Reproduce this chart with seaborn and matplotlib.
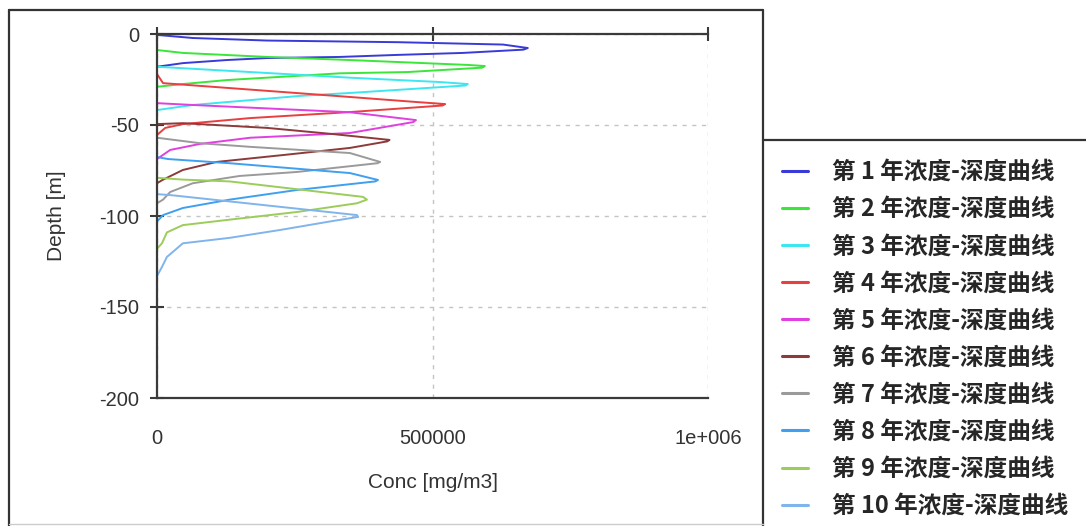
import matplotlib
matplotlib.use('Agg')
import matplotlib.pyplot as plt
import pandas as pd
import seaborn as sns
from matplotlib.lines import Line2D
from matplotlib.font_manager import FontProperties

# ---------------- data ----------------
labels = [f"第 {i} 年浓度-深度曲线" for i in range(1, 11)]

conc_y1 = [0, 65000, 200000, 437000, 628000, 673000, 665000, 555000, 435000, 332000, 200000, 127000, 47000, 0]
depth_y1 = [-0.5, -2.2, -3.6, -4.5, -5.8, -7.7, -8.6, -10.4, -11.5, -12.6, -13.2, -14.3, -16.0, -18.0]

conc_y2 = [0, 47000, 200000, 350000, 564000, 595000, 590000, 455000, 332000, 127000, 47000, 0]
depth_y2 = [-8.8, -10.4, -12.6, -14.3, -17.0, -17.6, -18.5, -20.9, -21.6, -25.3, -27.5, -29.0]

conc_y3 = [0, 350000, 514000, 564000, 560000, 350000, 260000, 65000, 0]
depth_y3 = [-18.0, -24.0, -26.4, -27.5, -28.3, -32.4, -34.0, -39.0, -41.8]

conc_y4 = [0, 11000, 350000, 472000, 523000, 518000, 350000, 169000, 47000, 15000, 0]
depth_y4 = [-22.0, -27.0, -34.6, -37.4, -38.5, -39.3, -42.9, -46.2, -49.5, -51.6, -55.5]

conc_y5 = [0, 65000, 350000, 470000, 465000, 350000, 169000, 78000, 24000, 0]
depth_y5 = [-38.0, -39.0, -43.0, -47.3, -48.4, -54.4, -57.0, -60.4, -63.7, -68.7]

conc_y6 = [0, 47000, 200000, 320000, 422000, 418000, 350000, 229000, 108000, 47000, 10000, 0]
depth_y6 = [-49.5, -49.0, -51.6, -55.0, -58.2, -59.0, -62.6, -66.5, -70.3, -74.7, -80.2, -82.0]

conc_y7 = [0, 78000, 169000, 350000, 405000, 400000, 254000, 150000, 65000, 24000, 11000, 0]
depth_y7 = [-57.0, -60.0, -62.0, -65.4, -70.3, -71.0, -75.8, -78.0, -82.0, -86.8, -91.0, -93.0]

conc_y8 = [0, 20000, 132000, 350000, 401000, 396000, 254000, 132000, 47000, 11000, 0]
depth_y8 = [-67.6, -68.7, -71.0, -76.4, -80.2, -81.0, -85.7, -91.0, -95.6, -99.5, -103.0]

conc_y9 = [0, 47000, 132000, 374000, 381000, 363000, 254000, 132000, 47000, 18000, 9000, 0]
depth_y9 = [-79.0, -80.0, -81.0, -89.5, -91.0, -93.0, -97.8, -102.0, -105.0, -109.0, -115.0, -118.0]

conc_y10 = [0, 24000, 132000, 363000, 365000, 314000, 223000, 132000, 47000, 18000, 9000, 0]
depth_y10 = [-88.0, -88.5, -92.0, -99.5, -100.5, -103.0, -107.7, -112.0, -115.0, -122.5, -128.0, -133.0]

concs = [conc_y1, conc_y2, conc_y3, conc_y4, conc_y5, conc_y6, conc_y7, conc_y8, conc_y9, conc_y10]
depths = [depth_y1, depth_y2, depth_y3, depth_y4, depth_y5, depth_y6, depth_y7, depth_y8, depth_y9, depth_y10]

x_ticks = [0, 500000, 1000000]
x_ticklabels = ['0', '500000', '1e+006']
y_ticks = [0, -50, -100, -150, -200]

colors = ['#3a3ad8', '#3ae63a', '#3ee6f0', '#e84040', '#e040e0',
          '#8c3a3a', '#9a9a9a', '#3f9ff0', '#9ccc5a', '#7fb4ec']

# ---------------- style ----------------
sns.set_style('white')
plt.rcParams['font.family'] = ['Liberation Sans', 'Noto Sans CJK SC', 'DejaVu Sans']

W, H = 1086, 526
fig = plt.figure(figsize=(W / 100, H / 100), dpi=100)
fig.patch.set_facecolor('white')

def fx(px):
    return px / W

def fy(py):
    return 1 - py / H

ax = fig.add_axes([fx(157), fy(398), fx(708) - fx(157), fy(34) - fy(398)])

rows = []
for lab, cs, ds in zip(labels, concs, depths):
    for i, (c, d) in enumerate(zip(cs, ds)):
        rows.append({'conc': c, 'depth': d, 'year': lab, 'order': i})
df = pd.DataFrame(rows)

sns.lineplot(data=df, x='conc', y='depth', hue='year', hue_order=labels,
             palette=colors, sort=False, estimator=None, lw=1.4, ax=ax)

ax.set_xlim(0, 1e6)
ax.set_ylim(-200, 0)
ax.set_xticks(x_ticks)
ax.set_xticklabels(x_ticklabels)
ax.set_yticks(y_ticks)
ax.set_yticklabels([str(v) for v in y_ticks])

ax.grid(True, linestyle=(0, (3, 4)), color='#c4c4c4', lw=1.0)
ax.set_axisbelow(True)

spine_col = '#3a3a3a'
for s in ['top', 'bottom', 'left']:
    ax.spines[s].set_visible(True)
    ax.spines[s].set_color(spine_col)
    ax.spines[s].set_linewidth(1.6)
ax.spines['right'].set_visible(False)

ax.tick_params(axis='both', direction='inout', length=10, width=1.5,
               color=spine_col, labelsize=14.5, labelcolor='#333333')
ax.tick_params(axis='x', top=True, pad=17)
ax.tick_params(axis='y', left=True, pad=8)

ax.set_xlabel('Conc [mg/m3]', fontsize=15, color='#333333', labelpad=18)
ax.set_ylabel('Depth [m]', fontsize=15, color='#333333', labelpad=24)

handles, labs = ax.get_legend_handles_labels()
if ax.get_legend() is not None:
    ax.get_legend().remove()
for h in handles:
    h.set_linewidth(2.2)

fig.legend(handles, labs, loc='upper left', bbox_to_anchor=(fx(782), fy(160)),
           frameon=False,
           prop=FontProperties(family=['Noto Sans CJK SC'], weight='bold', size=17),
           handlelength=1.1, handletextpad=1.0, labelspacing=0.555,
           borderpad=0, borderaxespad=0)

# outer frame and legend box
frame_col = '#333333'
fig.add_artist(Line2D([fx(9), fx(9)], [0, fy(10)], color=frame_col, lw=1.6))
fig.add_artist(Line2D([fx(9), fx(763)], [fy(10), fy(10)], color=frame_col, lw=1.6))
fig.add_artist(Line2D([fx(763), fx(763)], [0, fy(10)], color=frame_col, lw=1.6))
fig.add_artist(Line2D([fx(763), 1], [fy(140), fy(140)], color=frame_col, lw=1.6))
fig.add_artist(Line2D([fx(9), fx(763)], [fy(524), fy(524)], color='#cccccc', lw=1.0))

fig.savefig('out.png', dpi=100, facecolor='white')
